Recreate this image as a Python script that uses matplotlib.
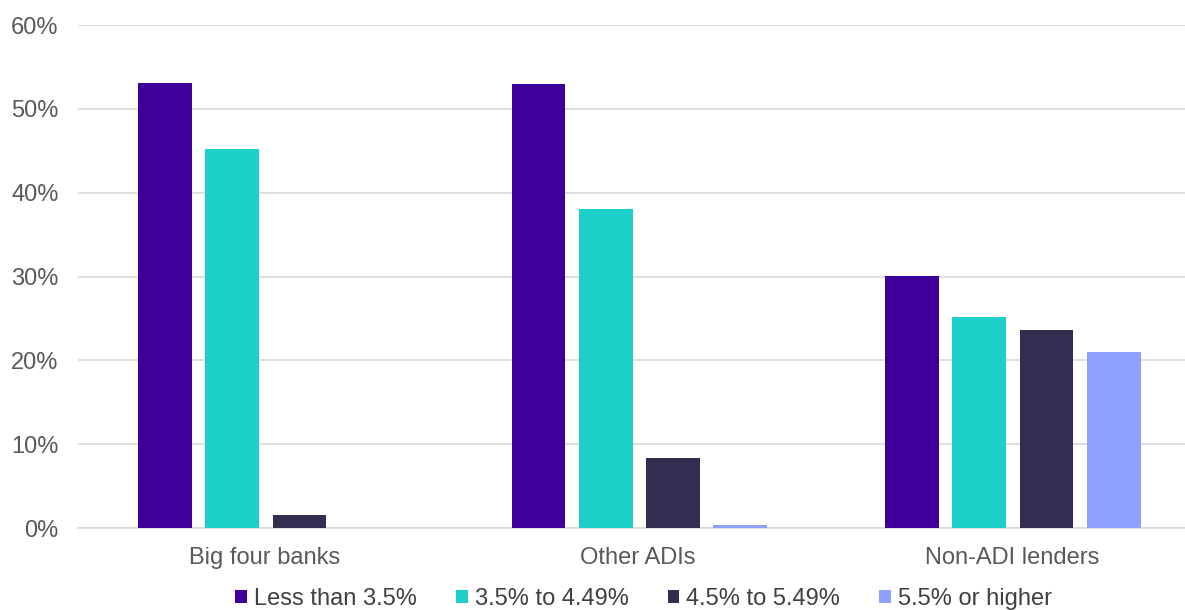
import numpy as np
import matplotlib.pyplot as plt

plt.rcParams['font.family'] = ['Liberation Sans', 'DejaVu Sans']

lenders = ['Big four banks', 'Other ADIs', 'Non-ADI lenders']
rate_bands = ['Less than 3.5%', '3.5% to 4.49%', '4.5% to 5.49%', '5.5% or higher']
less_35 = [53.1, 53.0, 30.1]
from_35 = [45.2, 38.1, 25.2]
from_45 = [1.55, 8.35, 23.6]
above_55 = [0.0, 0.36, 21.0]
yticks = [0, 10, 20, 30, 40, 50, 60]

colors = ['#3f0099', '#1dcfc9', '#352d50', '#8fa0ff']
series = [less_35, from_35, from_45, above_55]

fig = plt.figure(figsize=(11.85, 6.10), dpi=100)
ax = fig.add_axes([0.0658, 0.1344, 0.9342, 0.8246])

x = np.arange(len(lenders))
width = 0.144
step = 0.18
for i, (vals, col) in enumerate(zip(series, colors)):
    ax.bar(x + (i - 1.5) * step + 0.003, vals, width, color=col,
           label=rate_bands[i], zorder=3)

ax.set_xlim(-0.5, 2.464)
ax.set_ylim(0, 60)
ax.set_yticks(yticks)
ax.set_yticklabels([f'{t}%' for t in yticks])
ax.set_xticks(x)
ax.set_xticklabels(lenders)
ax.yaxis.grid(True, color='#d9d9d9', linewidth=1.2, zorder=0)
ax.tick_params(axis='both', length=0, labelsize=17, colors='#595959')
ax.tick_params(axis='y', pad=14)
ax.tick_params(axis='x', pad=14)
for s in ['top', 'right', 'left']:
    ax.spines[s].set_visible(False)
ax.spines['bottom'].set_color('#d9d9d9')
ax.spines['bottom'].set_linewidth(1.2)

leg = ax.legend(loc='center', bbox_to_anchor=(0.511, -0.141), ncol=4,
                frameon=False, fontsize=17, handlelength=0.5,
                handleheight=0.5, handletextpad=0.3, columnspacing=1.65,
                borderaxespad=0, borderpad=0)
for t in leg.get_texts():
    t.set_color('#404040')

fig.savefig('out.png', dpi=100)
